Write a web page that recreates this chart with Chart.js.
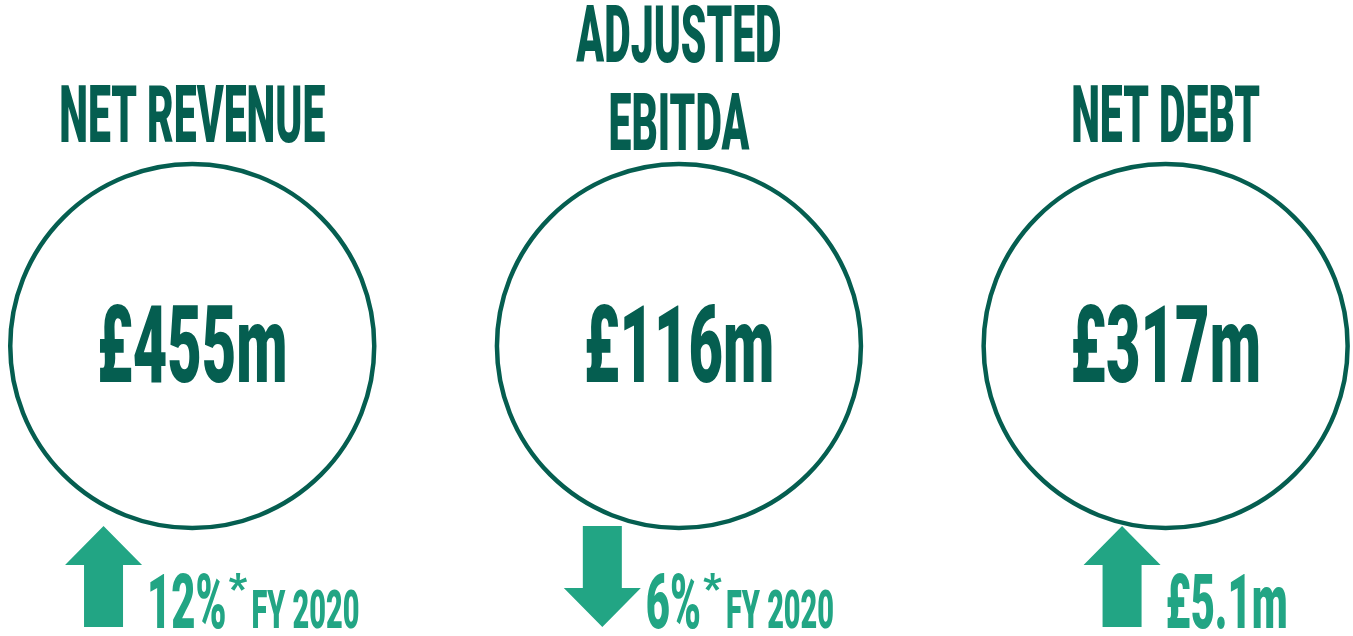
<!DOCTYPE html>
<html>
<head>
<meta charset="utf-8">
<script src="https://cdn.jsdelivr.net/npm/chart.js@4"></script>
<style>
    html, body { margin: 0; padding: 0; background: #ffffff; }
    canvas { display: block; }
</style>
</head>
<body>
<canvas id="kpi_chart" width="1353" height="636"></canvas>
<script>
// chart data
const titles = [['NET REVENUE'], ['ADJUSTED', 'EBITDA'], ['NET DEBT']];
const values = ['£455m', '£116m', '£317m'];
const changes = ['12%', '6%', '£5.1m'];
const directions = ['up', 'down', 'up'];
const footnotes = ['*', '*', ''];
const periods = ['FY 2020', 'FY 2020', ''];

const DARK = '#055e50';
const LIGHT = '#22a584';
const FONT = 'Roboto, "Liberation Sans", sans-serif';
const CAP = 0.711;

function squashedText(ctx, text, x, base, cap, squash, align, color) {
    const size = cap / CAP;
    ctx.save();
    ctx.font = '900 ' + size + 'px ' + FONT;
    ctx.fillStyle = color;
    ctx.textAlign = align;
    ctx.textBaseline = 'alphabetic';
    ctx.translate(x, base);
    ctx.scale(squash, 1);
    ctx.fillText(text, 0, 0);
    ctx.restore();
}

function squashedWidth(ctx, text, cap, squash) {
    ctx.save();
    ctx.font = '900 ' + (cap / CAP) + 'px ' + FONT;
    const w = ctx.measureText(text).width * squash;
    ctx.restore();
    return w;
}

function drawArrow(ctx, x, top, dir) {
    const w = 77, shaft = 39, head = 39, h = 101;
    const mid = x + w / 2;
    ctx.save();
    ctx.fillStyle = LIGHT;
    ctx.beginPath();
    if (dir === 'up') {
        ctx.moveTo(mid, top);
        ctx.lineTo(x + w, top + head);
        ctx.lineTo(mid + shaft / 2, top + head);
        ctx.lineTo(mid + shaft / 2, top + h);
        ctx.lineTo(mid - shaft / 2, top + h);
        ctx.lineTo(mid - shaft / 2, top + head);
        ctx.lineTo(x, top + head);
    } else {
        ctx.moveTo(mid - shaft / 2, top);
        ctx.lineTo(mid + shaft / 2, top);
        ctx.lineTo(mid + shaft / 2, top + h - head);
        ctx.lineTo(x + w, top + h - head);
        ctx.lineTo(mid, top + h);
        ctx.lineTo(x, top + h - head);
        ctx.lineTo(mid - shaft / 2, top + h - head);
    }
    ctx.closePath();
    ctx.fill();
    ctx.restore();
}

const kpiText = {
    id: 'kpiText',
    afterDatasetsDraw(chart) {
        const ctx = chart.ctx;
        const meta = chart.getDatasetMeta(0);
        meta.data.forEach(function (pt, i) {
            const cx = pt.x, cy = pt.y;

            // title above the circle
            const lines = titles[i];
            const lastBase = cy - 204 + (lines.length - 1) * 8;
            lines.forEach(function (line, j) {
                const base = lastBase - (lines.length - 1 - j) * 88;
                squashedText(ctx, line, cx, base, 57, 0.51, 'center', DARK);
            });

            // value in the circle
            squashedText(ctx, values[i], cx, cy + 36, 77, 0.55, 'center', DARK);

            // change row under the circle
            const rowBase = cy + 282;
            const mainCap = 54, smallCap = 38;
            const mainSq = 0.55, smallSq = 0.54;
            const arrowW = 77;
            const mainW = squashedWidth(ctx, changes[i], mainCap, mainSq);
            let total = arrowW + 5 + mainW;
            if (footnotes[i]) total += 2 + 17;
            if (periods[i]) total += 6 + squashedWidth(ctx, periods[i], smallCap, smallSq);
            let x = cx + 20 - total / 2;

            drawArrow(ctx, x, cy + 180, directions[i]);
            x += arrowW + 5;
            squashedText(ctx, changes[i], x, rowBase, mainCap, mainSq, 'left', LIGHT);
            x += mainW + 2;
            if (footnotes[i]) {
                ctx.save();
                ctx.font = '900 40px ' + FONT;
                ctx.fillStyle = LIGHT;
                ctx.textAlign = 'left';
                ctx.fillText(footnotes[i], x, rowBase - mainCap + CAP * 40);
                ctx.restore();
                x += 17 + 6;
            }
            if (periods[i]) {
                squashedText(ctx, periods[i], x, rowBase, smallCap, smallSq, 'left', LIGHT);
            }
        });
    }
};

new Chart(document.getElementById('kpi_chart').getContext('2d'), {
    type: 'scatter',
    data: {
        labels: titles,
        datasets: [{
            data: values.map(function (v, i) { return { x: i, y: 0 }; }),
            pointRadius: 182,
            pointHoverRadius: 182,
            pointBorderWidth: 4.5,
            pointBackgroundColor: '#ffffff',
            pointBorderColor: DARK,
            clip: false
        }]
    },
    options: {
        responsive: false,
        animation: false,
        events: [],
        layout: {
            autoPadding: false,
            padding: { top: 56, left: 0, right: 0, bottom: 0 }
        },
        scales: {
            x: { type: 'linear', min: -0.395, max: 2.385, display: false },
            y: { type: 'linear', min: -1, max: 1, display: false }
        },
        plugins: {
            legend: { display: false },
            tooltip: { enabled: false }
        }
    },
    plugins: [kpiText]
});
</script>
</body>
</html>
